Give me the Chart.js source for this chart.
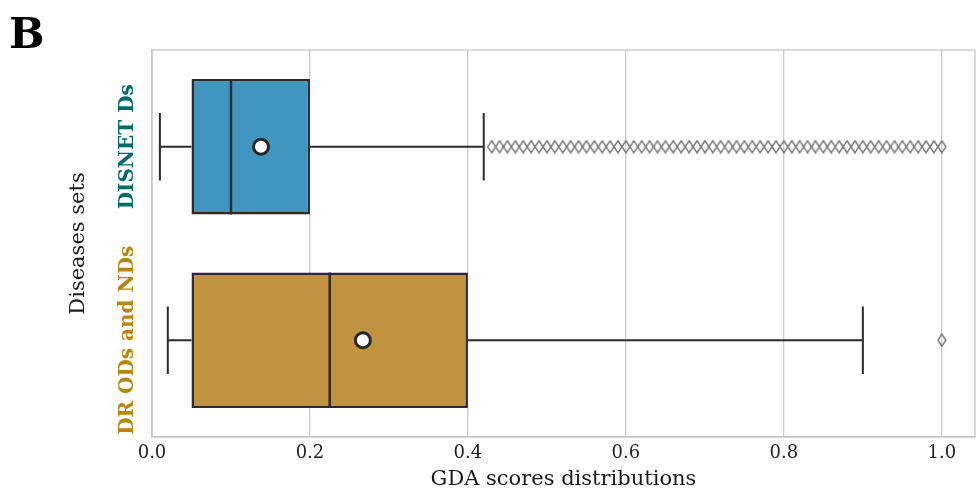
<!DOCTYPE html>
<html>
<head>
<meta charset="utf-8">
<script src="https://cdn.jsdelivr.net/npm/chart.js@4.4.1/dist/chart.umd.min.js"></script>
<style>
  html, body { margin: 0; padding: 0; background: #fff; }
  #wrap { width: 976px; height: 490px; position: relative; }
</style>
</head>
<body>
<div id="wrap"><canvas id="boxChart" width="976" height="490"></canvas></div>
<script>
// categories and box stats
const categories = ['DISNET Ds', 'DR ODs and NDs'];
const whiskerLow = [0.01, 0.02];
const q1 = [0.05, 0.05];
const median = [0.10, 0.225];
const q3 = [0.20, 0.40];
const whiskerHigh = [0.42, 0.90];
const means = [0.138, 0.267];
const outliersDisnet = [0.43, 0.44, 0.45, 0.46, 0.47, 0.48, 0.49, 0.50, 0.51, 0.52,
  0.53, 0.54, 0.55, 0.56, 0.57, 0.58, 0.59, 0.60, 0.61, 0.62, 0.63, 0.64, 0.65, 0.66,
  0.67, 0.68, 0.69, 0.70, 0.71, 0.72, 0.73, 0.74, 0.75, 0.76, 0.77, 0.78, 0.79, 0.80,
  0.81, 0.82, 0.83, 0.84, 0.85, 0.86, 0.87, 0.88, 0.89, 0.90, 0.91, 0.92, 0.93, 0.94,
  0.95, 0.96, 0.97, 0.98, 0.99, 1.00];
const outliersDr = [1.00];
const tickValues = [0.0, 0.2, 0.4, 0.6, 0.8, 1.0];

const boxColors = ['#4096c1', '#c1933f'];
const labelColors = ['#006b6b', '#b8860b'];
const edge = '#2b2b2b';

// thin diamond like matplotlib 'd' marker
function diamond() {
  const c = document.createElement('canvas');
  c.width = 10; c.height = 14;
  const g = c.getContext('2d');
  g.strokeStyle = '#747474';
  g.lineWidth = 1.4;
  g.beginPath();
  g.moveTo(5, 1); g.lineTo(9, 7); g.lineTo(5, 13); g.lineTo(1, 7); g.closePath();
  g.stroke();
  return c;
}
const diamondImg = diamond();

const BOX_HALF = 0.35;
const CAP_HALF = 0.175;

function seg(x0, y0, x1, y1, w) {
  return {
    type: 'scatter', yAxisID: 'y2', showLine: true,
    data: [{x: x0, y: y0}, {x: x1, y: y1}],
    borderColor: edge, borderWidth: w || 2, pointRadius: 0, order: 1,
  };
}

const datasets = [{
  type: 'bar',
  yAxisID: 'y',
  data: categories.map((c, i) => [q1[i], q3[i]]),
  backgroundColor: boxColors,
  borderColor: edge,
  borderWidth: 2.5,
  borderSkipped: false,
  grouped: false,
  barPercentage: 0.7,
  categoryPercentage: 1,
  order: 3,
}];

categories.forEach((c, i) => {
  datasets.push(seg(whiskerLow[i], i, q1[i], i));
  datasets.push(seg(q3[i], i, whiskerHigh[i], i));
  datasets.push(seg(whiskerLow[i], i - CAP_HALF, whiskerLow[i], i + CAP_HALF));
  datasets.push(seg(whiskerHigh[i], i - CAP_HALF, whiskerHigh[i], i + CAP_HALF));
  datasets.push(seg(median[i], i - BOX_HALF, median[i], i + BOX_HALF, 2.5));
});

[outliersDisnet, outliersDr].forEach((arr, i) => {
  datasets.push({
    type: 'scatter', yAxisID: 'y2',
    data: arr.map(v => ({x: v, y: i})),
    pointStyle: diamondImg, order: 2,
  });
});

datasets.push({
  type: 'scatter', yAxisID: 'y2',
  data: means.map((m, i) => ({x: m, y: i})),
  pointRadius: 7.5, pointBackgroundColor: '#ffffff',
  pointBorderColor: '#262626', pointBorderWidth: 3, order: 0,
});

const frameAndLabels = {
  id: 'frameAndLabels',
  afterDraw(chart) {
    const {ctx, chartArea: a} = chart;
    ctx.save();
    ctx.strokeStyle = '#c8c8c8';
    ctx.lineWidth = 1.3;
    ctx.strokeRect(a.left, a.top, a.right - a.left, a.bottom - a.top);

    const yScale = chart.scales.y;
    ctx.textAlign = 'center';
    ctx.textBaseline = 'middle';
    categories.forEach((c, i) => {
      const y = yScale.getPixelForValue(i);
      ctx.save();
      ctx.translate(128, y);
      ctx.rotate(-Math.PI / 2);
      ctx.fillStyle = labelColors[i];
      ctx.font = 'bold 20px "DejaVu Serif"';
      ctx.fillText(c, 0, 0);
      ctx.restore();
    });

    ctx.save();
    ctx.translate(79, (a.top + a.bottom) / 2);
    ctx.rotate(-Math.PI / 2);
    ctx.fillStyle = '#1a1a1a';
    ctx.font = '21px "DejaVu Serif"';
    ctx.fillText('Diseases sets', 0, 0);
    ctx.restore();

    ctx.fillStyle = '#000';
    ctx.textAlign = 'left';
    ctx.textBaseline = 'alphabetic';
    ctx.font = 'bold 42px "DejaVu Serif"';
    ctx.fillText('B', 9, 48);
    ctx.restore();
  }
};

new Chart(document.getElementById('boxChart'), {
  type: 'bar',
  data: { labels: categories, datasets: datasets },
  options: {
    indexAxis: 'y',
    responsive: false,
    animation: false,
    layout: { autoPadding: false, padding: { top: 50, right: 1, left: 0, bottom: 0 } },
    plugins: { legend: { display: false }, tooltip: { enabled: false } },
    scales: {
      x: {
        type: 'linear',
        min: 0, max: 1.042,
        afterBuildTicks: (s) => { s.ticks = tickValues.map(v => ({value: v})); },
        afterFit: (s) => { s.height = 53; s.paddingRight = 0; s.paddingLeft = 0; },
        grid: { color: '#cccccc', lineWidth: 1.3, drawTicks: false, offset: false },
        border: { color: '#c8c8c8', width: 1.3 },
        ticks: {
          padding: 6,
          color: '#222',
          font: { family: 'DejaVu Serif', size: 18 },
          callback: (v) => Number(v).toFixed(1),
        },
        title: {
          display: true,
          text: 'GDA scores distributions',
          color: '#1a1a1a',
          font: { family: 'DejaVu Serif', size: 21, lineHeight: 1 },
          padding: { top: 0, bottom: 0 },
        },
      },
      y: {
        type: 'category',
        offset: true,
        afterFit: (s) => { s.width = 152; s.paddingTop = 0; s.paddingBottom = 0; },
        grid: { display: false },
        border: { color: '#c8c8c8', width: 1.3 },
        ticks: { display: false },
      },
      y2: {
        type: 'linear',
        min: -0.5, max: 1.5,
        offset: false,
        reverse: true,
        display: false,
      },
    },
  },
  plugins: [frameAndLabels],
});
</script>
</body>
</html>
